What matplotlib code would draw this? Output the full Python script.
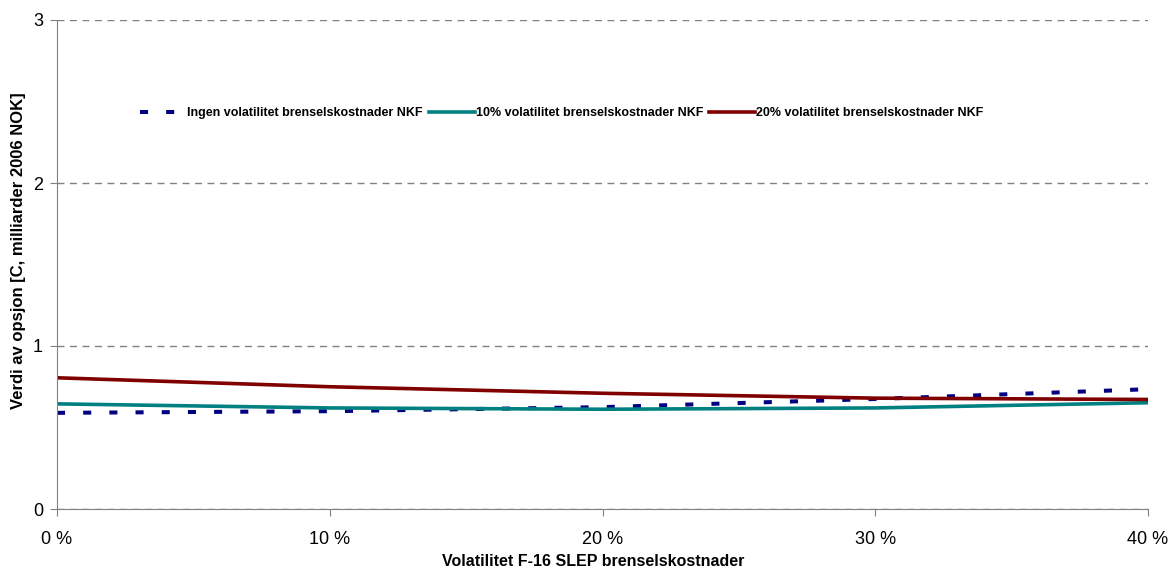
import numpy as np
import matplotlib.pyplot as plt

plt.rcParams['font.family'] = ['Liberation Sans', 'DejaVu Sans']

# volatility of F-16 SLEP fuel cost (fraction)
vol = [0.0, 0.1, 0.2, 0.3, 0.4]
tick_vals = [0.0, 0.1, 0.2, 0.3, 0.4]
tick_labels = ['0 %', '10 %', '20 %', '30 %', '40 %']

# option value, billion 2006 NOK
ingen = [0.59, 0.60, 0.625, 0.675, 0.735]
vol10 = [0.645, 0.62, 0.612, 0.62, 0.652]
vol20 = [0.805, 0.75, 0.71, 0.68, 0.672]

labels = ['Ingen volatilitet brenselskostnader NKF',
          '10% volatilitet brenselskostnader NKF',
          '20% volatilitet brenselskostnader NKF']

fig = plt.figure(figsize=(11.71, 5.76), dpi=100)
ax = fig.add_axes([57 / 1171, 1 - 509 / 576, 1091 / 1171, 489 / 576])

ax.plot(vol, ingen, color='#000080', lw=2.9, dashes=(2, 4.5),
        dash_capstyle='butt', label=labels[0])
ax.plot(vol, vol10, color='#008080', lw=2.6, label=labels[1])
ax.plot(vol, vol20, color='#800000', lw=2.6, label=labels[2])

ax.set_xlim(0, 0.4)
ax.set_ylim(0, 3)
ax.set_xticks(tick_vals)
ax.set_xticklabels(tick_labels)
ax.set_yticks([0, 1, 2, 3])
ax.tick_params(labelsize=13, length=5, color='#808080')
ax.tick_params(axis='x', pad=11)
ax.tick_params(axis='y', pad=5)

ax.yaxis.grid(True, color='#808080', linestyle=(0, (5, 4)), lw=1)
ax.set_axisbelow(True)
for s in ['top', 'right']:
    ax.spines[s].set_visible(False)
for s in ['left', 'bottom']:
    ax.spines[s].set_color('#808080')

ax.set_xlabel('Volatilitet F-16 SLEP brenselskostnader', fontsize=11.5,
              fontweight='bold', va='center')
ax.xaxis.set_label_coords((593 - 57) / 1091, (509 - 561) / 489)
ax.set_ylabel('Verdi av opsjon [C, milliarder 2006 NOK]', fontsize=12,
              fontweight='bold', va='center')
ax.yaxis.set_label_coords((18.5 - 57) / 1091, (509 - 251) / 489)

leg = ax.legend(loc='center left', bbox_to_anchor=((140 - 57) / 1091, (509 - 113) / 489),
                ncol=3, frameon=False, prop={'size': 9, 'weight': 'bold'},
                handlelength=3.7, handletextpad=0.05, columnspacing=0.5,
                borderaxespad=0, borderpad=0)

fig.savefig('out.png', dpi=100)
